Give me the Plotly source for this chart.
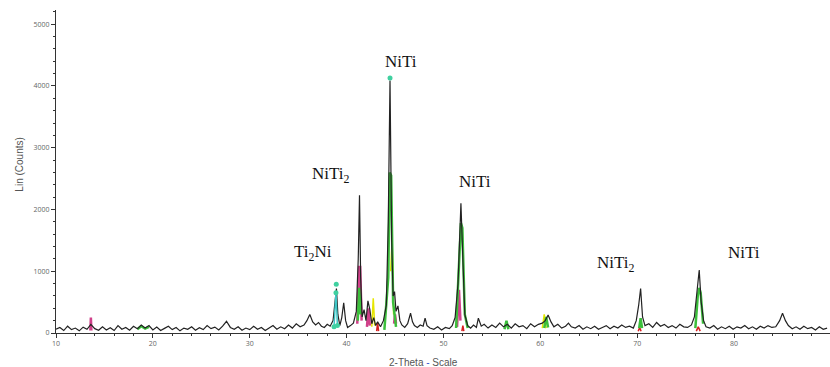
import plotly.graph_objects as go

# ---- measured pattern (black trace) ----
two_theta = [
    10.0, 10.4, 10.8, 11.2, 11.6, 12.0, 12.4, 12.8, 13.2, 13.6, 14.0, 14.4, 14.8, 15.2, 15.6, 16.0,
    16.4, 16.8, 17.2, 17.6, 18.0, 18.4, 18.8, 19.2, 19.6, 20.0, 20.4, 20.8, 21.2, 21.6, 22.0, 22.4,
    22.8, 23.2, 23.6, 24.0, 24.4, 24.8, 25.2, 25.6, 26.0, 26.4, 26.8, 27.2, 27.6, 28.0, 28.4, 28.8,
    29.2, 29.6, 30.0, 30.4, 30.8, 31.2, 31.6, 32.0, 32.4, 32.8, 33.2, 33.6, 34.0, 34.4, 34.8, 35.2,
    35.6, 35.9, 36.2, 36.5, 36.8, 37.1, 37.4, 37.7, 38.0, 38.3, 38.6, 38.8, 38.95, 39.1, 39.3, 39.5,
    39.7, 39.9, 40.1, 40.4, 40.7, 41.0, 41.2, 41.33, 41.45, 41.6, 41.8, 42.0, 42.2, 42.4, 42.6, 42.8,
    43.0, 43.2, 43.5, 43.8, 44.1, 44.3, 44.48, 44.65, 44.8, 44.95, 45.1, 45.3, 45.5, 45.7, 46.0, 46.3,
    46.6, 46.8, 47.0, 47.3, 47.6, 47.9, 48.1, 48.3, 48.6, 49.0, 49.4, 49.8, 50.2, 50.6, 50.9, 51.2,
    51.5, 51.8, 52.0, 52.2, 52.5, 52.8, 53.1, 53.4, 53.6, 53.9, 54.2, 54.6, 55.0, 55.4, 55.8, 56.2,
    56.6, 57.0, 57.4, 57.8, 58.2, 58.6, 59.0, 59.4, 59.8, 60.2, 60.5, 60.8, 61.1, 61.4, 61.8, 62.2,
    62.6, 62.9, 63.2, 63.6, 64.0, 64.4, 64.8, 65.2, 65.6, 66.0, 66.4, 66.8, 67.2, 67.6, 68.0, 68.4,
    68.8, 69.2, 69.6, 69.9, 70.15, 70.35, 70.55, 70.8, 71.2, 71.6, 72.0, 72.4, 72.8, 73.2, 73.6, 74.0,
    74.4, 74.8, 75.2, 75.6, 75.9, 76.2, 76.4, 76.6, 76.85, 77.1, 77.5, 77.9, 78.3, 78.7, 79.1, 79.5,
    79.9, 80.3, 80.7, 81.1, 81.5, 81.9, 82.3, 82.7, 83.1, 83.5, 83.9, 84.3, 84.7, 85.0, 85.3, 85.6,
    86.0, 86.4, 86.8, 87.2, 87.6, 88.0, 88.4, 88.8, 89.2, 89.6,
]
counts = [
    60, 90, 40, 110, 55, 80, 35, 95, 60, 140, 70, 45, 100, 50, 85, 40,
    120, 60, 90, 45, 110, 70, 130, 80, 120, 50, 95, 40, 75, 110, 55, 90,
    35, 80, 60, 100, 45, 85, 55, 120, 70, 95, 50, 110, 190, 90, 60, 100,
    45, 80, 55, 110, 60, 90, 40, 85, 120, 60, 100, 70, 130, 80, 150, 100,
    130, 200, 300, 180, 130, 170, 110, 90, 140, 110, 200, 500, 720, 300, 120, 250,
    490, 200, 90, 120, 160, 350, 1200, 2230, 900, 260, 380, 200, 520, 380, 150, 250,
    120, 180, 100, 200, 450, 1800, 4090, 1500, 600, 670, 350, 440, 200, 130, 90, 150,
    320, 180, 120, 90, 130, 110, 240, 120, 80, 60, 100, 50, 90, 70, 120, 250,
    800, 2100, 1000, 300, 120, 80, 130, 90, 240, 110, 140, 80, 130, 90, 160, 100,
    140, 80, 150, 100, 120, 70, 150, 100, 140, 160, 200, 290, 180, 100, 140, 80,
    110, 160, 100, 80, 120, 60, 100, 70, 110, 60, 90, 120, 70, 110, 80, 130,
    90, 110, 80, 200, 450, 720, 260, 120, 150, 90, 170, 110, 140, 90, 120, 80,
    140, 100, 90, 130, 260, 750, 1020, 500, 200, 100, 80, 120, 60, 100, 70, 110,
    60, 100, 80, 120, 70, 100, 60, 110, 80, 120, 90, 100, 200, 320, 200, 120,
    70, 100, 60, 110, 70, 90, 50, 100, 60, 80,
]

# ---- phase overlays (coloured traces) ----
niti_x = [43.9, 44.3, 44.45, 44.6, 44.8, 45.1, None, 51.3, 51.6, 51.8, 51.95, 52.2, 52.5, None,
          76.0, 76.25, 76.4, 76.55, 76.8, None, 41.15, 41.3, 41.45, None, 70.2, 70.35, 70.5, None,
          18.4, 18.8, 19.2, 19.6, None, 56.3, 56.5, 56.7, None, 60.4, 60.6, 60.8]
niti_y = [50, 900, 2600, 2550, 500, 100, None, 80, 1000, 1780, 1700, 300, 80, None,
          80, 600, 730, 650, 150, None, 200, 730, 300, None, 80, 240, 80, None,
          60, 110, 70, 100, None, 60, 200, 60, None, 80, 260, 90]

niti2_x = [41.1, 41.28, 41.4, 41.55, None, 51.4, 51.6, 51.75, None, 42.1, 42.25, 42.4, None,
           13.55, 13.6, 13.65, None, 44.9, 45.0, 45.1]
niti2_y = [150, 1070, 1070, 200, None, 100, 700, 200, None, 100, 400, 120, None,
           40, 250, 40, None, 150, 300, 150]

ti2ni_x = [38.7, 38.9, 39.05, None, 44.48, None, 38.93]
ti2ni_y = [100, 650, 120, None, 4130, None, 790]

yellow_x = [42.6, 42.75, 42.9, None, 44.55, 44.7, 44.85, None, 60.2, 60.4, 60.6, None, 13.6]
yellow_y = [100, 560, 120, None, 1000, 1500, 300, None, 80, 300, 80, None, 300]

red_x = [70.1, 70.25, 70.4, None, 76.1, 76.3, 76.5, None, 43.1, 43.2, 43.3, None, 51.9, 52.0, 52.1]
red_y = [30, 90, 30, None, 30, 100, 30, None, 30, 160, 30, None, 30, 120, 30]

# ---- labels ----
label_text = ["NiTi", "NiTi<sub>2</sub>", "Ti<sub>2</sub>Ni", "NiTi", "NiTi<sub>2</sub>", "NiTi"]
label_x = [45.6, 38.4, 36.5, 53.3, 67.8, 81.0]
label_y = [4390, 2560, 1300, 2450, 1120, 1300]

y_ticks = [0, 1000, 2000, 3000, 4000, 5000]
x_ticks = [10, 20, 30, 40, 50, 60, 70, 80, 90]

fig = go.Figure()

def overlay(xs, ys, color, width=2):
    fig.add_trace(go.Scatter(x=xs, y=ys, mode="lines", line=dict(color=color, width=width),
                             hoverinfo="skip", showlegend=False))

overlay(yellow_x, yellow_y, "#e6e600", 1.5)
overlay(red_x, red_y, "#d62020", 1.5)
overlay(niti2_x, niti2_y, "#d0408a", 2.5)
overlay(niti_x, niti_y, "#3cbf3c", 2.5)

fig.add_trace(go.Scatter(x=two_theta, y=counts, mode="lines",
                         line=dict(color="#222222", width=1.2),
                         hoverinfo="skip", showlegend=False))

fig.add_trace(go.Scatter(x=ti2ni_x, y=ti2ni_y, mode="lines+markers",
                         line=dict(color="#40c8c8", width=1.5),
                         marker=dict(color="#40d0a0", size=5),
                         hoverinfo="skip", showlegend=False))

for t, xx, yy in zip(label_text, label_x, label_y):
    fig.add_annotation(x=xx, y=yy, text=t, showarrow=False,
                       font=dict(family="Liberation Serif", size=17, color="#111"))

fig.add_annotation(xref="paper", yref="paper", x=-0.058, y=0.52, text="Lin (Counts)",
                   textangle=-90, showarrow=False,
                   font=dict(family="Liberation Sans", size=10, color="#555"))
fig.add_annotation(xref="paper", yref="paper", x=0.475, y=0, yshift=-29,
                   text="2-Theta <span style='color:#3050d0'>-</span> Scale",
                   showarrow=False, yanchor="middle",
                   font=dict(family="Liberation Sans", size=10, color="#555"))

fig.update_layout(
    width=830, height=367,
    margin=dict(l=56, r=0, t=10, b=34),
    paper_bgcolor="white", plot_bgcolor="white",
    xaxis=dict(range=[10, 89.9], tickvals=x_ticks, showgrid=False, zeroline=False,
               showline=True, linecolor="#333", linewidth=1, ticks="outside", ticklen=4,
               tickcolor="#333", tickfont=dict(size=7, color="#666"),
               minor=dict(dtick=2, ticks="outside", ticklen=2, tickcolor="#333")),
    yaxis=dict(range=[0, 5230], tickvals=y_ticks, showgrid=False, zeroline=False,
               showline=True, linecolor="#333", linewidth=1, ticks="outside", ticklen=4,
               tickcolor="#333", tickfont=dict(size=7, color="#666"),
               minor=dict(dtick=200, ticks="outside", ticklen=2, tickcolor="#333")),
)

fig.write_html("out.html")
